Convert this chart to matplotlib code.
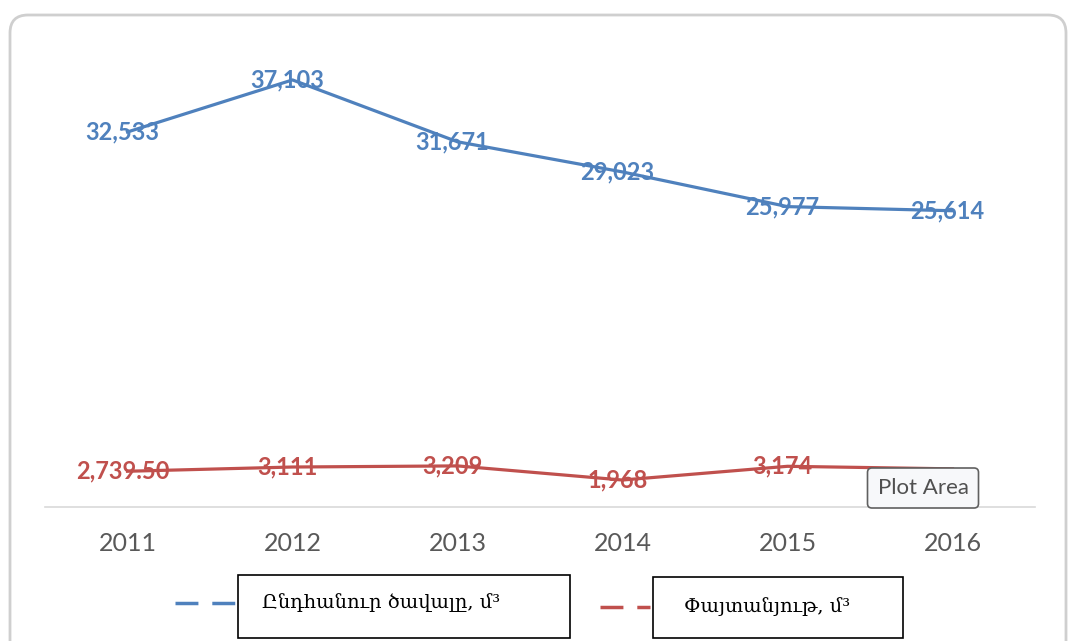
import matplotlib
matplotlib.use('Agg')
import matplotlib.pyplot as plt
from matplotlib.patches import FancyBboxPatch, Rectangle
from matplotlib.lines import Line2D
from matplotlib.transforms import IdentityTransform

years = ['2011', '2012', '2013', '2014', '2015', '2016']
total = [32533, 37103, 31671, 29023, 25977, 25614]
total_labels = ['32,533', '37,103', '31,671', '29,023', '25,977', '25,614']
wood = [2739.5, 3111, 3209, 1968, 3174, 2950]
wood_labels = ['2,739.50', '3,111', '3,209', '1,968', '3,174', None]
legend_names = ['Ընդհանուր ծավալը, մ³', 'Փայտանյութ, մ³']

blue = '#4f81bd'
red = '#c0504d'

fig = plt.figure(figsize=(10.72, 6.41), dpi=100)
W, H = 1072, 641

# chart area border
pix = IdentityTransform()
fig.patches.append(FancyBboxPatch((10, -30), 1056, 656, boxstyle='round,pad=0,rounding_size=18',
                                  transform=pix, fill=False, ec='#cfcfcf', lw=2))

ax = fig.add_axes([45 / W, (H - 507) / H, 990 / W, 459.5 / H])
x = list(range(len(years)))
ax.plot(x, total, color=blue, lw=2.3, zorder=3)
ax.plot(x, wood, color=red, lw=2.3, zorder=3)
for xi, v, t in zip(x, total, total_labels):
    ax.text(xi - 0.03, v, t, color=blue, fontsize=17, fontweight='bold', family='Lato',
            ha='center', va='center', zorder=2)
for xi, v, t in zip(x, wood, wood_labels):
    if t:
        ax.text(xi - 0.03, v, t, color=red, fontsize=17, fontweight='bold', family='Lato',
                ha='center', va='center', zorder=2)

ax.set_xlim(-0.5, 5.5)
ax.set_ylim(-400, 39950)
ax.set_xticks(x)
ax.set_xticklabels(years, fontsize=18, color='#595959', family='Lato')
ax.tick_params(axis='x', length=0, pad=18)
ax.set_yticks([])
for s in ['top', 'right', 'left']:
    ax.spines[s].set_visible(False)
ax.spines['bottom'].set_color('#d9d9d9')
ax.spines['bottom'].set_linewidth(1.2)

# legend
fig.add_artist(Line2D([175 / W, 235 / W], [(H - 603) / H] * 2, color=blue, lw=2.5, ls=(0, (6.6, 4))))
fig.add_artist(Rectangle((238 / W, (H - 638) / H), 332 / W, 63 / H, fill=False, ec='black', lw=1.2))
fig.text(262 / W, (H - 603) / H, legend_names[0], fontsize=14, family=['DejaVu Serif', 'DejaVu Sans'],
         va='center', ha='left')
fig.add_artist(Line2D([600 / W, 650 / W], [(H - 607) / H] * 2, color=red, lw=2.5, ls=(0, (6.6, 4))))
fig.add_artist(Rectangle((653 / W, (H - 638) / H), 250 / W, 61 / H, fill=False, ec='black', lw=1.2))
fig.text(684 / W, (H - 607) / H, legend_names[1], fontsize=14, family=['DejaVu Serif', 'DejaVu Sans'],
         va='center', ha='left')

# tooltip
fig.text(923 / W, (H - 488) / H, 'Plot Area', fontsize=16, color='#505050', family='Lato',
         ha='center', va='center', zorder=10,
         bbox=dict(boxstyle='round,pad=0.45,rounding_size=0.2', fc='#f7f8fa', ec='#606060', lw=1.2))

fig.savefig('out.png', dpi=100)
